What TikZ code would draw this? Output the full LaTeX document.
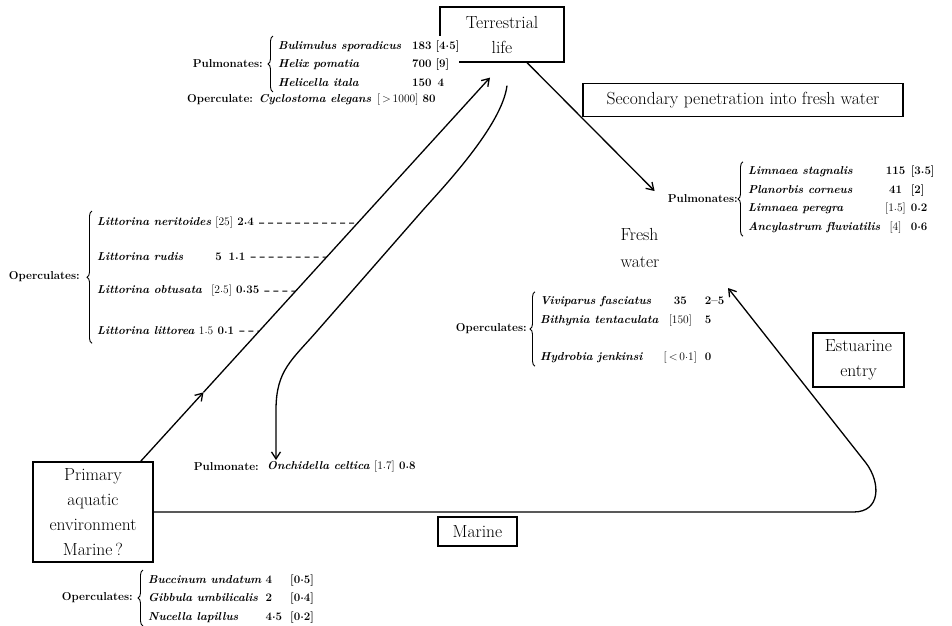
\documentclass[tikz,border=0pt]{standalone}
\usetikzlibrary{arrows.meta,positioning,calc,decorations.pathreplacing}

\tikzset{
  label-big/.style={font=\fontsize{17.5}{25}\selectfont, align=center, inner sep=0pt},
  box/.style={label-big, draw, line width=1.2pt, inner xsep=6pt, inner ysep=3pt},
  spp-text/.style={font=\fontsize{11.5}{18.5}\selectfont\bfseries, inner sep=0pt},
  link/.style={line width=1.3pt, ->},
  dashlink/.style={line width=1pt, dash pattern=on 5pt off 4pt},
  sbrace/.style={decorate, decoration={brace, amplitude=5pt}, line width=0.9pt},
  >={Straight Barb[length=7pt,width=9pt]}
}
\newcommand{\rg}[1]{\textmd{#1}}
\newcommand{\pd}{\raisebox{0.35ex}{.}}

\begin{document}
\begin{tikzpicture}[x=1pt,y=-1pt]
  \useasboundingbox (0,0) rectangle (952,625);

  % Boxed environments
  \node[box, minimum width=124pt, minimum height=55pt] (terr) at (502,34.5) {Terrestrial\\life};
  \node[box, minimum width=320pt, minimum height=33pt] (second) at (743,100) {Secondary penetration into fresh water};
  \node[box, minimum width=91pt, minimum height=54pt] (estu) at (858.5,360) {Estuarine\\entry};
  \node[box, minimum width=79pt, minimum height=29pt] (marine) at (477.5,531.5) {Marine};
  \node[box, minimum width=120pt, minimum height=100pt] (prim) at (93,512) {Primary\\aquatic\\environment\\Marine\,?};
  \node[label-big, align=left] (fresh) at (640,248) {Fresh\\[2pt]water};

  % Terrestrial species (table sits over the corner of the box)
  \node[spp-text, anchor=west, fill=white] (land-pulm) at (278,64) {\begin{tabular}{@{}p{134pt}@{}l@{\hspace{4pt}}l@{}}
    \textit{Bulimulus sporadicus} & 183 & [4\pd5]\\
    \textit{Helix pomatia} & 700 & [9]\\
    \textit{Helicella itala} & 150 & \,4
  \end{tabular}};
  \draw[sbrace] ($(land-pulm.south west)+(-5,0)$) -- ($(land-pulm.north west)+(-5,0)$);
  \node[spp-text, anchor=east] (land-pulm-lab) at ($(land-pulm.west)+(-15,0)$) {Pulmonates:};
  \node[spp-text, anchor=west] (land-oper) at (187,100) {Operculate:\enspace\textit{Cyclostoma elegans}\enspace\rg{[\,>\,1000]} 80};

  % Fresh water species
  \node[spp-text, anchor=west] (fw-pulm) at (748,199) {\begin{tabular}{@{}l@{\hspace{5pt}}c@{\hspace{5pt}}l@{}}
    \textit{Limnaea stagnalis} & 115 & [3\pd5]\\
    \textit{Planorbis corneus} & 41 & [2]\\
    \textit{Limnaea peregra} & \rg{[1\pd5]} & 0\pd2\\
    \textit{Ancylastrum fluviatilis} & \rg{[4]} & 0\pd6
  \end{tabular}};
  \draw[sbrace] ($(fw-pulm.south west)+(-5,0)$) -- ($(fw-pulm.north west)+(-5,0)$);
  \node[spp-text, anchor=east] (fw-pulm-lab) at ($(fw-pulm.west)+(-10,0)$) {Pulmonates:};

  \node[spp-text, anchor=west] (fw-oper) at (540,329) {\begin{tabular}{@{}l@{\hspace{5pt}}c@{\hspace{8pt}}l@{}}
    \textit{Viviparus fasciatus} & 35 & 2–5\\
    \textit{Bithynia tentaculata} & \rg{[150]} & 5\\
    & & \\
    \textit{Hydrobia jenkinsi} & \rg{[\,<\,0\pd1]} & 0
  \end{tabular}};
  \draw[sbrace] ($(fw-oper.south west)+(-5,0)$) -- ($(fw-oper.north west)+(-5,0)$);
  \node[spp-text, anchor=east] (fw-oper-lab) at ($(fw-oper.west)+(-13,0)$) {Operculates:};

  % Marine species
  \node[spp-text, anchor=west] (sea-oper) at (148,598) {\begin{tabular}{@{}l@{\hspace{4pt}}l@{\hspace{8pt}}l@{}}
    \textit{Buccinum undatum} & 4 & [0\pd5]\\
    \textit{Gibbula umbilicalis} & 2 & [0\pd4]\\
    \textit{Nucella lapillus} & 4\pd5 & [0\pd2]
  \end{tabular}};
  \draw[sbrace] ($(sea-oper.south west)+(-5,0)$) -- ($(sea-oper.north west)+(-5,0)$);
  \node[spp-text, anchor=east] (sea-oper-lab) at ($(sea-oper.west)+(-15,0)$) {Operculates:};

  \node[spp-text, anchor=west] (onch) at (267,467) {\textit{Onchidella celtica} \rg{[1\pd7]} 0\pd8};
  \node[spp-text, anchor=east] (onch-lab) at ($(onch.west)+(-8,0)$) {Pulmonate:};

  % Shore species
  \node[spp-text, anchor=west] (ner) at (97,223) {\textit{Littorina neritoides} \rg{[25]} 2\pd4};
  \node[spp-text, anchor=west] (rud) at (97,257) {\textit{Littorina rudis}\hspace{32pt}5\hspace{7pt}1\pd1};
  \node[spp-text, anchor=west] (obt) at (97,291) {\textit{Littorina obtusata}\hspace{9pt}\rg{[2\pd5]} 0\pd35};
  \node[spp-text, anchor=west] (lit) at (97,331) {\textit{Littorina littorea} \rg{1\pd5} 0\pd1};
  \draw[sbrace] ($(lit.south west)+(-5,8)$) -- ($(ner.north west)+(-5,-6)$);
  \node[spp-text, anchor=east] (lit-lab) at ($($(ner.west)!0.5!(lit.west)$)+(-17,0)$) {Operculates:};

  % Marine to land, with arrow half way
  \coordinate (prim-top) at ($(prim.north east)+(-13,0)$);
  \coordinate (terr-in) at ($(terr.south)+(-12,15)$);
  \coordinate (sea-mid) at ($(prim-top)!0.18!(terr-in)$);
  \draw[link] (prim-top) -- (sea-mid);
  \draw[link] (sea-mid) -- (terr-in);
  \foreach \r in {ner,rud,obt,lit}
    \draw[dashlink] ($(\r.east)+(5,0)$) -- (intersection of \r.east--\r.west and prim-top--terr-in);

  % Land back to the sea
  \coordinate (land-out) at ($(terr.south)+(5,23)$);
  \coordinate (onch-in) at ($(onch.north west)+(9,-1)$);
  \draw[link] (land-out) .. controls +(-5,40) and +(20,-22.5) .. (423,210) -- (318,330)
    .. controls +(-26,30) and +(0,-40) .. (276,410) -- (onch-in);

  % Land to fresh water
  \coordinate (terr-out) at ($(terr.south)+(25,0)$);
  \coordinate (fw-top) at ($(fw-pulm-lab.west)+(-13,-8)$);
  \draw[link] (terr-out) -- (fw-top);

  % Sea to fresh water by the estuaries
  \coordinate (sea-turn) at ($(prim.east)+(700,0)$);
  \coordinate (fw-in) at (728,288);
  \draw[link] (prim.east) -- (sea-turn) .. controls +(27,0) and +(15,20) .. (866,463) -- (fw-in);
\end{tikzpicture}
\end{document}
